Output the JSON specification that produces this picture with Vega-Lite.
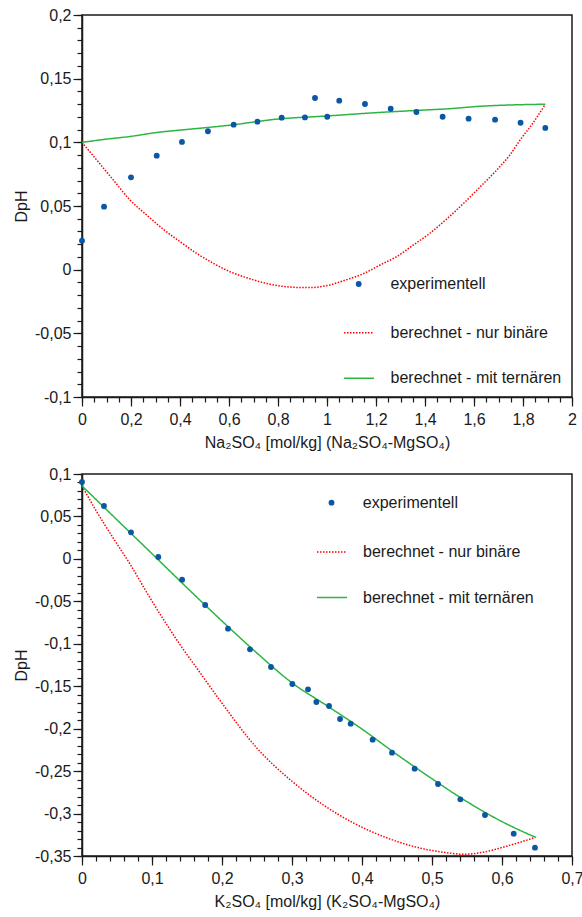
{
  "$schema": "https://vega.github.io/schema/vega-lite/v6.json",
  "padding": {"left": 12, "top": 6, "right": 5, "bottom": 5},
  "spacing": 14,
  "config": {
    "locale": {"number": {"decimal": ",", "thousands": ".", "grouping": [3], "currency": ["", " €"], "minus": "-"}},
    "font": "Liberation Sans",
    "view": {"stroke": "#1a1a1a", "strokeWidth": 1.5},
    "axis": {
      "grid": false, "domainColor": "#1a1a1a", "domainWidth": 1.5, "tickColor": "#1a1a1a", "tickWidth": 1.2,
      "labelColor": "#1a1a1a", "titleColor": "#1a1a1a", "labelFont": "Liberation Sans", "titleFont": "Liberation Sans",
      "labelFontSize": 16, "titleFontSize": 16, "titleFontWeight": "normal", "labelFlush": false, "labelOverlap": false
    },
    "legend": {"labelFont": "Liberation Sans", "labelFontSize": 16, "labelColor": "#1a1a1a", "labelLimit": 400, "padding": 0}
  },
  "resolve": {
    "scale": {"color": "independent", "shape": "independent", "strokeDash": "independent"},
    "legend": {"color": "independent", "shape": "independent", "strokeDash": "independent"}
  },
  "datasets": {
    "na": [
      {"series": "experimentell", "x": 0, "y": 0.0228},
      {"series": "experimentell", "x": 0.09, "y": 0.0495},
      {"series": "experimentell", "x": 0.2, "y": 0.0725},
      {"series": "experimentell", "x": 0.305, "y": 0.0895},
      {"series": "experimentell", "x": 0.408, "y": 0.1003},
      {"series": "experimentell", "x": 0.514, "y": 0.1087},
      {"series": "experimentell", "x": 0.619, "y": 0.1139},
      {"series": "experimentell", "x": 0.716, "y": 0.1162},
      {"series": "experimentell", "x": 0.815, "y": 0.1194},
      {"series": "experimentell", "x": 0.91, "y": 0.1196},
      {"series": "experimentell", "x": 0.951, "y": 0.1348},
      {"series": "experimentell", "x": 1.001, "y": 0.1201},
      {"series": "experimentell", "x": 1.05, "y": 0.1327},
      {"series": "experimentell", "x": 1.155, "y": 0.1301},
      {"series": "experimentell", "x": 1.26, "y": 0.1264},
      {"series": "experimentell", "x": 1.365, "y": 0.1238},
      {"series": "experimentell", "x": 1.472, "y": 0.1201},
      {"series": "experimentell", "x": 1.578, "y": 0.1186},
      {"series": "experimentell", "x": 1.686, "y": 0.1178},
      {"series": "experimentell", "x": 1.79, "y": 0.1154},
      {"series": "experimentell", "x": 1.891, "y": 0.1113},
      {"series": "berechnet - nur binäre", "x": 0, "y": 0.1},
      {"series": "berechnet - nur binäre", "x": 0.06, "y": 0.0861},
      {"series": "berechnet - nur binäre", "x": 0.128, "y": 0.0704},
      {"series": "berechnet - nur binäre", "x": 0.196, "y": 0.0547},
      {"series": "berechnet - nur binäre", "x": 0.264, "y": 0.0429},
      {"series": "berechnet - nur binäre", "x": 0.332, "y": 0.0317},
      {"series": "berechnet - nur binäre", "x": 0.4, "y": 0.022},
      {"series": "berechnet - nur binäre", "x": 0.468, "y": 0.0128},
      {"series": "berechnet - nur binäre", "x": 0.536, "y": 0.005},
      {"series": "berechnet - nur binäre", "x": 0.604, "y": -0.0016},
      {"series": "berechnet - nur binäre", "x": 0.672, "y": -0.0063},
      {"series": "berechnet - nur binäre", "x": 0.74, "y": -0.0102},
      {"series": "berechnet - nur binäre", "x": 0.808, "y": -0.0128},
      {"series": "berechnet - nur binäre", "x": 0.87, "y": -0.0139},
      {"series": "berechnet - nur binäre", "x": 0.93, "y": -0.0141},
      {"series": "berechnet - nur binäre", "x": 1.0, "y": -0.0125},
      {"series": "berechnet - nur binäre", "x": 1.07, "y": -0.0085},
      {"series": "berechnet - nur binäre", "x": 1.15, "y": -0.003},
      {"series": "berechnet - nur binäre", "x": 1.22, "y": 0.004},
      {"series": "berechnet - nur binäre", "x": 1.284, "y": 0.0102},
      {"series": "berechnet - nur binäre", "x": 1.35, "y": 0.019},
      {"series": "berechnet - nur binäre", "x": 1.42, "y": 0.0286},
      {"series": "berechnet - nur binäre", "x": 1.49, "y": 0.04},
      {"series": "berechnet - nur binäre", "x": 1.557, "y": 0.052},
      {"series": "berechnet - nur binäre", "x": 1.625, "y": 0.065},
      {"series": "berechnet - nur binäre", "x": 1.693, "y": 0.0783},
      {"series": "berechnet - nur binäre", "x": 1.75, "y": 0.091},
      {"series": "berechnet - nur binäre", "x": 1.788, "y": 0.1018},
      {"series": "berechnet - nur binäre", "x": 1.84, "y": 0.115},
      {"series": "berechnet - nur binäre", "x": 1.891, "y": 0.1299},
      {"series": "berechnet - mit ternären", "x": 0, "y": 0.1},
      {"series": "berechnet - mit ternären", "x": 0.1, "y": 0.1025},
      {"series": "berechnet - mit ternären", "x": 0.2, "y": 0.1047},
      {"series": "berechnet - mit ternären", "x": 0.3, "y": 0.1076},
      {"series": "berechnet - mit ternären", "x": 0.45, "y": 0.1105},
      {"series": "berechnet - mit ternären", "x": 0.6, "y": 0.1134},
      {"series": "berechnet - mit ternären", "x": 0.8, "y": 0.1183},
      {"series": "berechnet - mit ternären", "x": 1.0, "y": 0.1207},
      {"series": "berechnet - mit ternären", "x": 1.2, "y": 0.1233},
      {"series": "berechnet - mit ternären", "x": 1.4, "y": 0.1254},
      {"series": "berechnet - mit ternären", "x": 1.5, "y": 0.1264},
      {"series": "berechnet - mit ternären", "x": 1.6, "y": 0.128},
      {"series": "berechnet - mit ternären", "x": 1.8, "y": 0.1296},
      {"series": "berechnet - mit ternären", "x": 1.891, "y": 0.1299}
    ],
    "k": [
      {"series": "experimentell", "x": 0, "y": 0.0906},
      {"series": "experimentell", "x": 0.0314, "y": 0.0623},
      {"series": "experimentell", "x": 0.07, "y": 0.0313},
      {"series": "experimentell", "x": 0.109, "y": 0.0022},
      {"series": "experimentell", "x": 0.143, "y": -0.0245},
      {"series": "experimentell", "x": 0.176, "y": -0.0543},
      {"series": "experimentell", "x": 0.2086, "y": -0.0822},
      {"series": "experimentell", "x": 0.24, "y": -0.1065},
      {"series": "experimentell", "x": 0.27, "y": -0.1274},
      {"series": "experimentell", "x": 0.3005, "y": -0.1474},
      {"series": "experimentell", "x": 0.3229, "y": -0.1537},
      {"series": "experimentell", "x": 0.3348, "y": -0.1686},
      {"series": "experimentell", "x": 0.3529, "y": -0.1733},
      {"series": "experimentell", "x": 0.3686, "y": -0.1886},
      {"series": "experimentell", "x": 0.3838, "y": -0.1941},
      {"series": "experimentell", "x": 0.4152, "y": -0.213},
      {"series": "experimentell", "x": 0.4429, "y": -0.2283},
      {"series": "experimentell", "x": 0.4752, "y": -0.2471},
      {"series": "experimentell", "x": 0.5086, "y": -0.2652},
      {"series": "experimentell", "x": 0.5405, "y": -0.2832},
      {"series": "experimentell", "x": 0.5757, "y": -0.3017},
      {"series": "experimentell", "x": 0.6167, "y": -0.3237},
      {"series": "experimentell", "x": 0.6471, "y": -0.3402},
      {"series": "berechnet - nur binäre", "x": 0, "y": 0.086},
      {"series": "berechnet - nur binäre", "x": 0.02, "y": 0.057},
      {"series": "berechnet - nur binäre", "x": 0.045, "y": 0.024},
      {"series": "berechnet - nur binäre", "x": 0.07, "y": -0.008},
      {"series": "berechnet - nur binäre", "x": 0.095, "y": -0.043},
      {"series": "berechnet - nur binäre", "x": 0.12, "y": -0.076},
      {"series": "berechnet - nur binäre", "x": 0.14, "y": -0.101},
      {"series": "berechnet - nur binäre", "x": 0.166, "y": -0.131},
      {"series": "berechnet - nur binäre", "x": 0.2, "y": -0.17},
      {"series": "berechnet - nur binäre", "x": 0.25, "y": -0.223},
      {"series": "berechnet - nur binäre", "x": 0.3, "y": -0.262},
      {"series": "berechnet - nur binäre", "x": 0.345, "y": -0.29},
      {"series": "berechnet - nur binäre", "x": 0.39, "y": -0.312},
      {"series": "berechnet - nur binäre", "x": 0.44, "y": -0.33},
      {"series": "berechnet - nur binäre", "x": 0.49, "y": -0.342},
      {"series": "berechnet - nur binäre", "x": 0.52, "y": -0.346},
      {"series": "berechnet - nur binäre", "x": 0.545, "y": -0.348},
      {"series": "berechnet - nur binäre", "x": 0.57, "y": -0.346},
      {"series": "berechnet - nur binäre", "x": 0.6, "y": -0.34},
      {"series": "berechnet - nur binäre", "x": 0.625, "y": -0.334},
      {"series": "berechnet - nur binäre", "x": 0.648, "y": -0.328},
      {"series": "berechnet - mit ternären", "x": 0, "y": 0.086},
      {"series": "berechnet - mit ternären", "x": 0.05, "y": 0.046},
      {"series": "berechnet - mit ternären", "x": 0.1, "y": 0.0061},
      {"series": "berechnet - mit ternären", "x": 0.15, "y": -0.034},
      {"series": "berechnet - mit ternären", "x": 0.2, "y": -0.0732},
      {"series": "berechnet - mit ternären", "x": 0.25, "y": -0.111},
      {"series": "berechnet - mit ternären", "x": 0.3, "y": -0.146},
      {"series": "berechnet - mit ternären", "x": 0.35, "y": -0.173},
      {"series": "berechnet - mit ternären", "x": 0.4, "y": -0.2005},
      {"series": "berechnet - mit ternären", "x": 0.45, "y": -0.2305},
      {"series": "berechnet - mit ternären", "x": 0.5, "y": -0.259},
      {"series": "berechnet - mit ternären", "x": 0.55, "y": -0.286},
      {"series": "berechnet - mit ternären", "x": 0.6, "y": -0.3095},
      {"series": "berechnet - mit ternären", "x": 0.648, "y": -0.328}
    ]
  },
  "vconcat": [
    {
      "width": 490, "height": 382,
      "data": {"name": "na"},
      "resolve": {"axis": {"x": "independent", "y": "independent"}},
      "layer": [
        {
          "transform": [{"filter": "datum.series === 'berechnet - nur binäre'"}],
          "mark": {"type": "line", "strokeWidth": 1.5, "interpolate": "monotone"},
          "encoding": {
            "x": {"field": "x", "type": "quantitative", "scale": {"domain": [0, 2], "nice": false, "zero": false}, "axis": null},
            "y": {"field": "y", "type": "quantitative", "scale": {"domain": [-0.1, 0.2], "nice": false, "zero": false}, "axis": null},
            "color": {"field": "series", "type": "nominal", "scale": {"domain": ["berechnet - nur binäre", "berechnet - mit ternären"], "range": ["#ff0000", "#2cb543"]},
              "legend": {"orient": "none", "legendX": 261, "legendY": 301.7, "title": null, "symbolType": "stroke", "symbolSize": 900, "symbolStrokeWidth": 1.5, "labelOffset": 15.5, "rowPadding": 21.6}},
            "strokeDash": {"field": "series", "type": "nominal", "scale": {"domain": ["berechnet - nur binäre", "berechnet - mit ternären"], "range": [[1.5, 1.5], [1, 0]]},
              "legend": {"orient": "none", "legendX": 261, "legendY": 301.7, "title": null, "symbolType": "stroke", "symbolSize": 900, "symbolStrokeWidth": 1.5, "labelOffset": 15.5, "rowPadding": 21.6}}
          }
        },
        {
          "transform": [{"filter": "datum.series === 'berechnet - mit ternären'"}],
          "mark": {"type": "line", "strokeWidth": 1.5, "interpolate": "monotone"},
          "encoding": {
            "x": {"field": "x", "type": "quantitative", "scale": {"domain": [0, 2], "nice": false, "zero": false},
              "axis": {"orient": "bottom", "title": null, "labels": false, "domain": false, "tickSize": 5,
                "values": [0,0.05,0.1,0.15,0.2,0.25,0.3,0.35,0.4,0.45,0.5,0.55,0.6,0.65,0.7,0.75,0.8,0.85,0.9,0.95,1,1.05,1.1,1.15,1.2,1.25,1.3,1.35,1.4,1.45,1.5,1.55,1.6,1.65,1.7,1.75,1.8,1.85,1.9,1.95,2]}},
            "y": {"field": "y", "type": "quantitative", "scale": {"domain": [-0.1, 0.2], "nice": false, "zero": false},
              "axis": {"orient": "left", "title": null, "labels": false, "domain": false, "tickSize": 5,
                "values": [-0.1,-0.09,-0.08,-0.07,-0.06,-0.05,-0.04,-0.03,-0.02,-0.01,0,0.01,0.02,0.03,0.04,0.05,0.06,0.07,0.08,0.09,0.1,0.11,0.12,0.13,0.14,0.15,0.16,0.17,0.18,0.19,0.2]}},
            "color": {"field": "series", "type": "nominal"},
            "strokeDash": {"field": "series", "type": "nominal"}
          }
        },
        {
          "transform": [{"filter": "datum.series === 'experimentell'"}],
          "mark": {"type": "point", "filled": true, "size": 34, "opacity": 1, "color": "#0a57a4"},
          "encoding": {
            "x": {"field": "x", "type": "quantitative", "scale": {"domain": [0, 2], "nice": false, "zero": false},
              "axis": {"orient": "bottom", "title": "Na₂SO₄ [mol/kg] (Na₂SO₄-MgSO₄)", "values": [0,0.2,0.4,0.6,0.8,1,1.2,1.4,1.6,1.8,2], "format": "~r", "tickSize": 9, "labelPadding": 5, "titlePadding": 7}},
            "y": {"field": "y", "type": "quantitative", "scale": {"domain": [-0.1, 0.2], "nice": false, "zero": false},
              "axis": {"orient": "left", "title": "DpH", "values": [-0.1,-0.05,0,0.05,0.1,0.15,0.2], "format": "~r", "tickSize": 9, "labelPadding": 2, "titlePadding": 5}},
            "shape": {"field": "series", "type": "nominal", "scale": {"domain": ["experimentell"], "range": ["circle"]},
              "legend": {"orient": "none", "legendX": 268.7, "legendY": 261, "title": null, "symbolSize": 34, "symbolFillColor": "#0a57a4", "symbolStrokeWidth": 0, "symbolOpacity": 1, "labelOffset": 23.7}}
          }
        }
      ]
    },
    {
      "width": 490, "height": 382,
      "data": {"name": "k"},
      "resolve": {"axis": {"x": "independent", "y": "independent"}},
      "layer": [
        {
          "transform": [{"filter": "datum.series === 'berechnet - nur binäre'"}],
          "mark": {"type": "line", "strokeWidth": 1.5, "interpolate": "monotone"},
          "encoding": {
            "x": {"field": "x", "type": "quantitative", "scale": {"domain": [0, 0.7], "nice": false, "zero": false}, "axis": null},
            "y": {"field": "y", "type": "quantitative", "scale": {"domain": [-0.35, 0.1], "nice": false, "zero": false}, "axis": null},
            "color": {"field": "series", "type": "nominal", "scale": {"domain": ["berechnet - nur binäre", "berechnet - mit ternären"], "range": ["#ff0000", "#2cb543"]},
              "legend": {"orient": "none", "legendX": 234, "legendY": 62, "title": null, "symbolType": "stroke", "symbolSize": 900, "symbolStrokeWidth": 1.5, "labelOffset": 15, "rowPadding": 21.6}},
            "strokeDash": {"field": "series", "type": "nominal", "scale": {"domain": ["berechnet - nur binäre", "berechnet - mit ternären"], "range": [[1.5, 1.5], [1, 0]]},
              "legend": {"orient": "none", "legendX": 234, "legendY": 62, "title": null, "symbolType": "stroke", "symbolSize": 900, "symbolStrokeWidth": 1.5, "labelOffset": 15, "rowPadding": 21.6}}
          }
        },
        {
          "transform": [{"filter": "datum.series === 'berechnet - mit ternären'"}],
          "mark": {"type": "line", "strokeWidth": 1.5, "interpolate": "monotone"},
          "encoding": {
            "x": {"field": "x", "type": "quantitative", "scale": {"domain": [0, 0.7], "nice": false, "zero": false},
              "axis": {"orient": "bottom", "title": null, "labels": false, "domain": false, "tickSize": 5,
                "values": [0,0.02,0.04,0.06,0.08,0.1,0.12,0.14,0.16,0.18,0.2,0.22,0.24,0.26,0.28,0.3,0.32,0.34,0.36,0.38,0.4,0.42,0.44,0.46,0.48,0.5,0.52,0.54,0.56,0.58,0.6,0.62,0.64,0.66,0.68,0.7]}},
            "y": {"field": "y", "type": "quantitative", "scale": {"domain": [-0.35, 0.1], "nice": false, "zero": false},
              "axis": {"orient": "left", "title": null, "labels": false, "domain": false, "tickSize": 5,
                "values": [-0.35,-0.34,-0.33,-0.32,-0.31,-0.3,-0.29,-0.28,-0.27,-0.26,-0.25,-0.24,-0.23,-0.22,-0.21,-0.2,-0.19,-0.18,-0.17,-0.16,-0.15,-0.14,-0.13,-0.12,-0.11,-0.1,-0.09,-0.08,-0.07,-0.06,-0.05,-0.04,-0.03,-0.02,-0.01,0,0.01,0.02,0.03,0.04,0.05,0.06,0.07,0.08,0.09,0.1]}},
            "color": {"field": "series", "type": "nominal"},
            "strokeDash": {"field": "series", "type": "nominal"}
          }
        },
        {
          "transform": [{"filter": "datum.series === 'experimentell'"}],
          "mark": {"type": "point", "filled": true, "size": 34, "opacity": 1, "color": "#0a57a4"},
          "encoding": {
            "x": {"field": "x", "type": "quantitative", "scale": {"domain": [0, 0.7], "nice": false, "zero": false},
              "axis": {"orient": "bottom", "title": "K₂SO₄ [mol/kg] (K₂SO₄-MgSO₄)", "values": [0,0.1,0.2,0.3,0.4,0.5,0.6,0.7], "format": "~r", "tickSize": 9, "labelPadding": 5, "titlePadding": 7,
                "encode": {"labels": {"align": {"condition": {"test": "datum.value >= 0.69", "value": "right"}, "value": "center"}}}}},
            "y": {"field": "y", "type": "quantitative", "scale": {"domain": [-0.35, 0.1], "nice": false, "zero": false},
              "axis": {"orient": "left", "title": "DpH", "values": [-0.35,-0.3,-0.25,-0.2,-0.15,-0.1,-0.05,0,0.05,0.1], "format": "~r", "tickSize": 9, "labelPadding": 2, "titlePadding": 5}},
            "shape": {"field": "series", "type": "nominal", "scale": {"domain": ["experimentell"], "range": ["circle"]},
              "legend": {"orient": "none", "legendX": 241.5, "legendY": 20.7, "title": null, "symbolSize": 34, "symbolFillColor": "#0a57a4", "symbolStrokeWidth": 0, "symbolOpacity": 1, "labelOffset": 23.3}}
          }
        }
      ]
    }
  ]
}
